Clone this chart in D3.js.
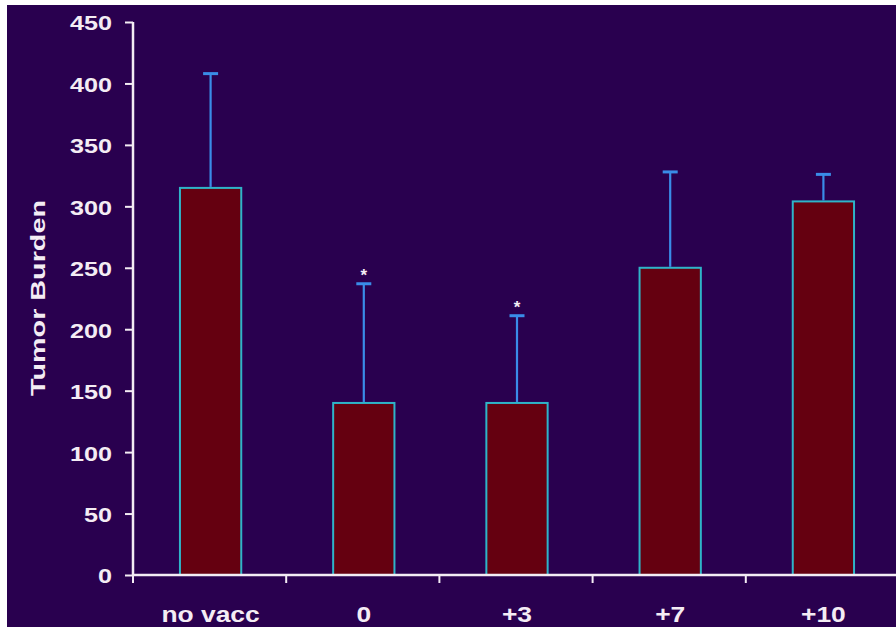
<!DOCTYPE html>
<html>
<head>
<meta charset="utf-8">
<script src="https://cdn.jsdelivr.net/npm/d3@7"></script>
<style>
html,body{margin:0;padding:0;background:#ffffff;}
svg{display:block;}
</style>
</head>
<body>
<svg id="chart" width="896" height="632"></svg>
<script>
const categories = ["no vacc", "0", "+3", "+7", "+10"];
const means = [315, 140, 140, 250, 304];
const errorTops = [408, 237, 211, 328, 326];
const significant = [false, true, true, false, false];
const yTicks = [0, 50, 100, 150, 200, 250, 300, 350, 400, 450];
const yLabel = "Tumor Burden";

const svg = d3.select("#chart");
const W = 896, H = 632;
svg.append("rect").attr("x", 7).attr("y", 5).attr("width", W - 7).attr("height", 622).attr("fill", "#29004f");

const x0 = 133, x1 = 899, yBase = 575, yTop = 22;
const x = d3.scaleBand().domain(categories).range([x0, x1]).paddingInner(0.6).paddingOuter(0.3);
const y = d3.scaleLinear().domain([0, 450]).range([yBase, yTop]);

const textColor = "#f4ecf4";
const font = "'Liberation Sans', Arial, sans-serif";

// bars
const g = svg.append("g");
g.selectAll("rect.bar").data(categories).join("rect")
  .attr("class", "bar")
  .attr("x", d => x(d) + 1)
  .attr("width", x.bandwidth())
  .attr("y", (d, i) => y(means[i]))
  .attr("height", (d, i) => y(0) - y(means[i]))
  .attr("fill", "#650010")
  .attr("stroke", "#2fb4c8")
  .attr("stroke-width", 2);

// error bars
const errColor = "#3a8ce8";
categories.forEach((c, i) => {
  const cx = x(c) + 1 + x.bandwidth() / 2;
  g.append("line").attr("x1", cx).attr("x2", cx)
    .attr("y1", y(means[i]) - 1).attr("y2", y(errorTops[i]))
    .attr("stroke", errColor).attr("stroke-width", 2.2);
  g.append("line").attr("x1", cx - 7.5).attr("x2", cx + 7.5)
    .attr("y1", y(errorTops[i])).attr("y2", y(errorTops[i]))
    .attr("stroke", errColor).attr("stroke-width", 3);
  if (significant[i]) {
    g.append("text").attr("x", cx).attr("y", y(errorTops[i]) - 3)
      .attr("text-anchor", "middle").attr("fill", textColor)
      .attr("font-family", font).attr("font-weight", "bold").attr("font-size", 17)
      .text("*");
  }
});

// y axis
const yAxis = d3.axisLeft(y).tickValues(yTicks).tickSize(8).tickPadding(6).tickFormat(d3.format("d"));
const ya = svg.append("g").attr("transform", `translate(${x0},0)`).call(yAxis);
ya.select(".domain").attr("stroke", textColor).attr("stroke-width", 2.5).attr("d", `M0,${yTop}H0V${yBase}`);
ya.selectAll(".tick line").attr("stroke", textColor).attr("stroke-width", 2);
ya.selectAll(".tick text")
  .attr("fill", textColor).attr("font-family", font).attr("font-weight", "bold").attr("font-size", 21)
  .attr("dy", "0.38em")
  .each(function() {
    const t = d3.select(this);
    const xx = +t.attr("x");
    t.attr("x", null).attr("transform", `translate(${xx - 7},0) scale(1.2,1)`);
  });

// x axis with ticks at category boundaries
const boundaries = d3.range(categories.length + 1).map(i => x0 + i * x.step());
const xa = svg.append("g");
xa.append("line").attr("x1", x0).attr("x2", x1).attr("y1", yBase).attr("y2", yBase)
  .attr("stroke", textColor).attr("stroke-width", 2.5);
xa.selectAll("line.tk").data(boundaries).join("line").attr("class", "tk")
  .attr("x1", d => d).attr("x2", d => d).attr("y1", yBase).attr("y2", yBase + 8)
  .attr("stroke", textColor).attr("stroke-width", 2);
xa.selectAll("text").data(categories).join("text")
  .attr("transform", d => `translate(${x(d) + 1 + x.bandwidth() / 2},622) scale(1.2,1)`)
  .attr("text-anchor", "middle").attr("fill", textColor)
  .attr("font-family", font).attr("font-weight", "bold").attr("font-size", 22)
  .text(d => d);

// y label
svg.append("text")
  .attr("transform", `translate(45,298) rotate(-90)`)
  .attr("text-anchor", "middle").attr("fill", textColor)
  .attr("font-family", font).attr("font-weight", "bold").attr("font-size", 21)
  .attr("textLength", 196).attr("lengthAdjust", "spacingAndGlyphs")
  .text(yLabel);
</script>
</body>
</html>
